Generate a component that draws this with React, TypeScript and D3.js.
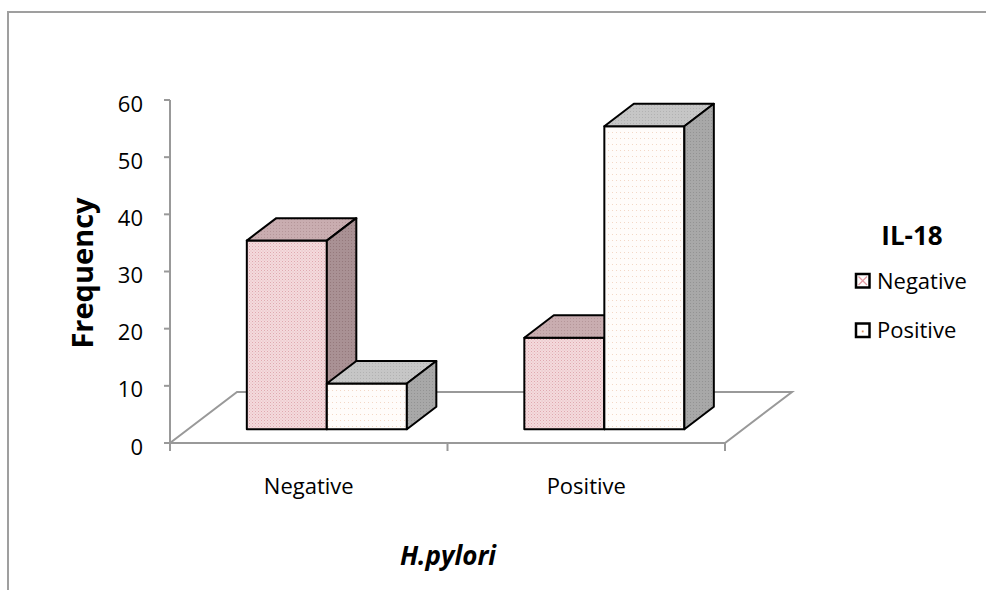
import React from "react";
import * as d3 from "d3";

const categories = ["Negative", "Positive"];
const series = ["Negative", "Positive"];
const negativeValues = [33, 16];
const positiveValues = [8, 53];
const yTicks = [0, 10, 20, 30, 40, 50, 60];

const W = 986;
const H = 590;

export default function App() {
  const y = d3.scaleLinear().domain([0, 60]).range([443, 100]);
  const x = d3.scaleBand<string>().domain(categories).range([170, 725]).paddingInner(0).paddingOuter(0);
  const sub = d3.scaleBand<string>().domain(series).range([0, x.bandwidth()]).paddingInner(0).paddingOuter(0.734);
  const depth = { dx: 67, dy: -51 };
  const d0 = 0.27;
  const d1 = 0.71;
  const proj = (px: number, v: number, d: number): [number, number] => [px + depth.dx * d, y(v) + depth.dy * d];
  const pts = (arr: [number, number][]) => arr.map((p) => p.join(",")).join(" ");

  const valuesBySeries: Record<string, number[]> = { Negative: negativeValues, Positive: positiveValues };
  const styles: Record<string, { front: string; top: string; side: string }> = {
    Negative: { front: "url(#pinkFront)", top: "url(#pinkTop)", side: "url(#pinkSide)" },
    Positive: { front: "url(#whiteFront)", top: "url(#grayTop)", side: "url(#graySide)" },
  };

  const bars: JSX.Element[] = [];
  categories.forEach((c, ci) => {
    series.forEach((s) => {
      const v = valuesBySeries[s][ci];
      const xl = (x(c) as number) + (sub(s) as number);
      const xr = xl + sub.bandwidth();
      const fbl = proj(xl, 0, d0), fbr = proj(xr, 0, d0), ftr = proj(xr, v, d0), ftl = proj(xl, v, d0);
      const btl = proj(xl, v, d1), btr = proj(xr, v, d1), bbr = proj(xr, 0, d1);
      const st = styles[s];
      bars.push(
        <g key={c + s} stroke="#000" strokeWidth={2} strokeLinejoin="round">
          <polygon points={pts([fbl, fbr, ftr, ftl])} fill={st.front} />
          <polygon points={pts([ftl, ftr, btr, btl])} fill={st.top} />
          <polygon points={pts([fbr, bbr, btr, ftr])} fill={st.side} />
        </g>
      );
    });
  });

  const floorFL = proj(170, 0, 0), floorFR = proj(725, 0, 0), floorBR = proj(725, 0, 1), floorBL = proj(170, 0, 1);
  const font = "'Open Sans', sans-serif";

  return (
    <svg width={W} height={H} style={{ position: "absolute", left: 0, top: 0, background: "#fff" }}>
      <defs>
        <pattern id="pinkFront" width="3" height="3" patternUnits="userSpaceOnUse">
          <rect width="3" height="3" fill="#f4dadd" />
          <rect width="1" height="1" fill="#dfa9af" />
          <rect x="1.5" y="1.5" width="1" height="1" fill="#e6bcc0" />
        </pattern>
        <pattern id="pinkTop" width="3" height="3" patternUnits="userSpaceOnUse">
          <rect width="3" height="3" fill="#c9adb0" />
          <rect width="1" height="1" fill="#b59699" />
        </pattern>
        <pattern id="pinkSide" width="3" height="3" patternUnits="userSpaceOnUse">
          <rect width="3" height="3" fill="#a99194" />
          <rect width="1" height="1" fill="#95797c" />
        </pattern>
        <pattern id="whiteFront" width="4" height="6" patternUnits="userSpaceOnUse">
          <rect width="4" height="6" fill="#fffcfa" />
          <rect width="1" height="1" fill="#f3d8c6" />
        </pattern>
        <pattern id="grayTop" width="3" height="3" patternUnits="userSpaceOnUse">
          <rect width="3" height="3" fill="#c6c6c6" />
          <rect width="1" height="1" fill="#b2b2b2" />
        </pattern>
        <pattern id="graySide" width="3" height="3" patternUnits="userSpaceOnUse">
          <rect width="3" height="3" fill="#a8a8a8" />
          <rect width="1" height="1" fill="#939393" />
        </pattern>
      </defs>

      <rect x={8} y={12} width={1000} height={700} fill="none" stroke="#9f9f9f" strokeWidth={2} />

      {/* floor */}
      <g stroke="#999" strokeWidth={2} fill="none">
        <polyline points={pts([floorFL, floorBL, floorBR, floorFR, floorFL])} />
      </g>

      {/* axes */}
      <g stroke="#999" strokeWidth={2}>
        <line x1={170} x2={170} y1={y(0)} y2={y(60)} />
        {yTicks.map((t) => (
          <line key={t} x1={164} x2={170} y1={y(t)} y2={y(t)} />
        ))}
        {x.domain().map((c) => (
          <line key={c} x1={x(c) as number} x2={x(c) as number} y1={y(0)} y2={y(0) + 8} />
        ))}
        <line x1={725} x2={725} y1={y(0)} y2={y(0) + 8} />
      </g>
      <g fontFamily={font} fontSize={22} fill="#000">
        {yTicks.map((t) => (
          <text key={t} x={143} y={y(t) + 2.5} textAnchor="end" dominantBaseline="central">
            {t}
          </text>
        ))}
        {categories.map((c) => (
          <text key={c} x={(x(c) as number) + x.bandwidth() / 2} y={494} textAnchor="middle">
            {c}
          </text>
        ))}
      </g>

      {bars}

      <text
        transform={`translate(81,273) rotate(-90)`}
        fontFamily={font}
        fontWeight="bold"
        fontSize={29}
        textAnchor="middle"
        dominantBaseline="central"
      >
        Frequency
      </text>
      <text x={448} y={565} fontFamily={font} fontWeight="bold" fontStyle="italic" fontSize={26} textAnchor="middle">
        H.pylori
      </text>

      {/* legend */}
      <text x={912} y={245} fontFamily={font} fontWeight="bold" fontSize={26} textAnchor="middle">
        IL-18
      </text>
      <g fontFamily={font} fontSize={22}>
        <rect x={856} y={274} width={13.5} height={13.5} fill="#fff" stroke="#000" strokeWidth={2.5} />
        <line x1={858.5} y1={276.5} x2={867} y2={285} stroke="#e29aa2" strokeWidth={1.3} />
        <line x1={867} y1={276.5} x2={858.5} y2={285} stroke="#e29aa2" strokeWidth={1.3} />
        <text x={877} y={289}>Negative</text>
        <rect x={856} y={323.5} width={13.5} height={13.5} fill="#fff" stroke="#000" strokeWidth={2.5} />
        <rect x={861.8} y={330.5} width={1.8} height={1.8} fill="#d9905a" />
        <text x={877} y={338}>Positive</text>
      </g>
    </svg>
  );
}
